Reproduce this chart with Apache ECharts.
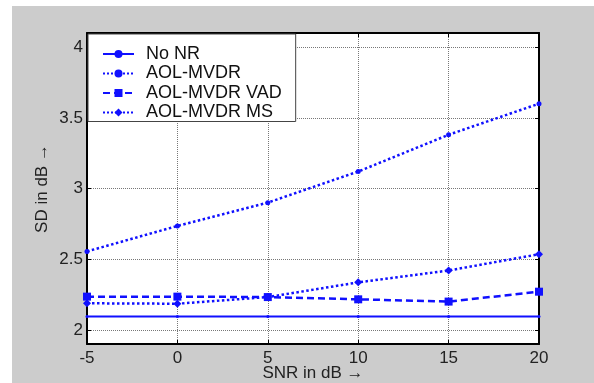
<!DOCTYPE html>
<html>
<head>
<meta charset="utf-8">
<script src="https://cdn.jsdelivr.net/npm/echarts@6/dist/echarts.min.js"></script>
<style>
  html, body { margin: 0; padding: 0; background: #fff; }
  #main { position: absolute; left: 12px; top: 6px; width: 582px; height: 377px; background: #cccccc; }
</style>
</head>
<body>
<div id="main"></div>
<script>
// SNR values (x) and SD values per method
var snr = [-5, 0, 5, 10, 15, 20]
var noNR = [2.095, 2.095, 2.095, 2.095, 2.095, 2.095]
var aolMvdr = [2.555, 2.735, 2.9, 3.12, 3.38, 3.6]
var aolMvdrVad = [2.235, 2.235, 2.232, 2.216, 2.2, 2.27]
var aolMvdrMs = [2.188, 2.185, 2.232, 2.336, 2.42, 2.535]
var yTicks = [2, 2.5, 3, 3.5, 4]

var font = 'Liberation Sans, Arial, sans-serif'
var blue = '#1010ff'

function pairs (ys) {
  return snr.map(function (x, i) { return [x, ys[i]] })
}

var myChart = echarts.init(document.getElementById('main'))
var option = {
  animation: false,
  textStyle: { fontFamily: font },
  grid: { left: 75, top: 27, right: 55, bottom: 39, outerBoundsMode: 'none', show: true, backgroundColor: '#fff', borderWidth: 0 },
  legend: {
    orient: 'vertical',
    left: 76, top: 28,
    padding: [11, 14, 0, 14],
    backgroundColor: '#fff',
    borderColor: '#444',
    borderWidth: 1,
    itemWidth: 31, itemHeight: 10, itemGap: 1.5,
    textStyle: { fontSize: 18, lineHeight: 18, color: '#111', fontFamily: font, padding: [0, 0, 0, 7] },
    data: ['No NR', 'AOL-MVDR', 'AOL-MVDR VAD', 'AOL-MVDR MS']
  },
  xAxis: [{
    type: 'value', min: -5, max: 20, interval: 5,
    name: 'SNR in dB →', nameLocation: 'middle', nameGap: 21, nameMoveOverlap: false,
    nameTextStyle: { fontSize: 17, color: '#222' },
    axisLine: { onZero: false, lineStyle: { color: '#000', width: 2 } },
    axisTick: { inside: true, length: 4, lineStyle: { color: '#000' } },
    axisLabel: { fontSize: 17, color: '#222', margin: 6 },
    splitLine: { show: true, lineStyle: { color: '#777', type: 'dotted', width: 1 } }
  }, {
    type: 'value', min: -5, max: 20, interval: 5, position: 'top',
    axisLine: { show: true, onZero: false, lineStyle: { color: '#000', width: 2 } },
    axisTick: { inside: true, length: 4, lineStyle: { color: '#000' } },
    axisLabel: { show: false },
    splitLine: { show: false }
  }],
  yAxis: [{
    type: 'value', min: 1.9, max: 4.1,
    name: 'SD in dB →', nameLocation: 'middle', nameGap: 36, nameMoveOverlap: false,
    nameTextStyle: { fontSize: 17, color: '#222' },
    axisLine: { show: true, onZero: false, lineStyle: { color: '#000', width: 2 } },
    axisTick: { show: true, inside: true, length: 4, customValues: yTicks, lineStyle: { color: '#000' } },
    axisLabel: { fontSize: 17, color: '#222', margin: 4, customValues: yTicks },
    splitLine: { show: true, customValues: yTicks, lineStyle: { color: '#777', type: 'dotted', width: 1 } }
  }, {
    type: 'value', min: 1.9, max: 4.1, position: 'right',
    axisLine: { show: true, onZero: false, lineStyle: { color: '#000', width: 2 } },
    axisTick: { show: true, inside: true, length: 4, customValues: yTicks, lineStyle: { color: '#000' } },
    axisLabel: { show: false },
    splitLine: { show: false }
  }],
  series: [{
    name: 'No NR', type: 'line', data: pairs(noNR),
    symbol: 'circle', symbolSize: 3, color: blue,
    lineStyle: { type: 'solid', width: 2, color: blue }
  }, {
    name: 'AOL-MVDR', type: 'line', data: pairs(aolMvdr),
    symbol: 'circle', symbolSize: 5, color: blue,
    lineStyle: { type: 'dotted', width: 2.5, color: blue }
  }, {
    name: 'AOL-MVDR VAD', type: 'line', data: pairs(aolMvdrVad),
    symbol: 'rect', symbolSize: 8, color: blue,
    lineStyle: { type: [7, 4], width: 2.5, color: blue }
  }, {
    name: 'AOL-MVDR MS', type: 'line', data: pairs(aolMvdrMs),
    symbol: 'diamond', symbolSize: 8, color: blue,
    lineStyle: { type: 'dotted', width: 2.5, color: blue }
  }]
}
myChart.setOption(option)
</script>
</body>
</html>
